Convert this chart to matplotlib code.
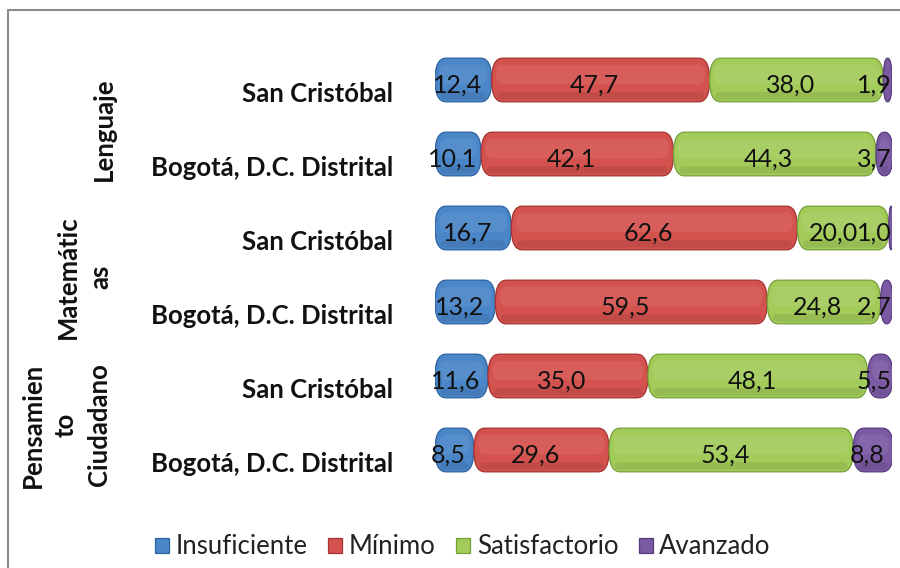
import numpy as np
import matplotlib
matplotlib.use("Agg")
import matplotlib.pyplot as plt
from matplotlib.patches import FancyBboxPatch, Rectangle
import matplotlib.transforms as mtransforms

plt.rcParams['font.family'] = ['Lato', 'DejaVu Sans']

# data, top row first
categories = ["San Cristóbal", "Bogotá, D.C. Distrital",
              "San Cristóbal", "Bogotá, D.C. Distrital",
              "San Cristóbal", "Bogotá, D.C. Distrital"]
groups = ["Lenguaje", "Matemátic\nas", "Pensamien\nto\nCiudadano"]
levels = ["Insuficiente", "Mínimo", "Satisfactorio", "Avanzado"]

insuficiente = [12.4, 10.1, 16.7, 13.2, 11.6, 8.5]
minimo = [47.7, 42.1, 62.6, 59.5, 35.0, 29.6]
satisfactorio = [38.0, 44.3, 20.0, 24.8, 48.1, 53.4]
avanzado = [1.9, 3.7, 1.0, 2.7, 5.5, 8.8]

colors = ["#4a86c8", "#d4524e", "#a2cb5a", "#7b5aa3"]
edges = ["#2e62a0", "#a5332f", "#76a03a", "#563a7d"]

fig = plt.figure(figsize=(9, 5.68), dpi=100)
ax = fig.add_axes([435 / 900, 1 - 487 / 568, 457 / 900, 444 / 568])

series = [insuficiente, minimo, satisfactorio, avanzado]
y = np.arange(len(categories))
left = np.zeros(len(categories))
height = 0.59

px_x = 100 / 457.0     # data units per pixel (x)
rx = 11 * px_x

def off(dx, dy):
    return mtransforms.ScaledTranslation(dx / 100, dy / 100, fig.dpi_scale_trans)

for i, vals in enumerate(series):
    vals = np.array(vals)
    bars = ax.barh(y, vals, left=left, height=height, color="none",
                   edgecolor="none", label=levels[i])
    for b, v in zip(bars, vals):
        x0, y0 = b.get_x(), b.get_y()
        w, h = b.get_width(), b.get_height()
        r = min(rx, w / 2)
        p = FancyBboxPatch((x0, y0), w, h,
                           boxstyle=f"round,pad=0,rounding_size={r}",
                           mutation_aspect=(h / 2) / r,
                           facecolor=colors[i], edgecolor=edges[i], lw=0.9, zorder=2)
        ax.add_patch(p)
        # soft 3D shading: light band upper-middle, darker lower edge
        if w > 3:
            band = FancyBboxPatch((x0 + r * 0.4, y0 + h * 0.15), w - r * 0.8, h * 0.45,
                                  boxstyle=f"round,pad=0,rounding_size={r * 0.6}",
                                  mutation_aspect=(h * 0.225) / (r * 0.6),
                                  facecolor="white", alpha=0.07, edgecolor="none", zorder=3)
            ax.add_patch(band)
            shade = FancyBboxPatch((x0 + r * 0.5, y0 + h * 0.78), w - r * 1.0, h * 0.17,
                                   boxstyle=f"round,pad=0,rounding_size={r * 0.5}",
                                   mutation_aspect=(h * 0.085) / (r * 0.5),
                                   facecolor="black", alpha=0.08, edgecolor="none", zorder=3)
            ax.add_patch(shade)
        txt = f"{v:.1f}".replace(".", ",")
        if i == 3 and v < 5:
            ax.text(100, y0 + h / 2, txt, ha="right", va="center", fontsize=18,
                    color="#111111", zorder=4, transform=ax.transData + off(0, -5))
        else:
            dx = -6
            if i == 2 and w < 22:
                dx = -10
            ax.text(x0 + w / 2, y0 + h / 2, txt, ha="center", va="center",
                    fontsize=18, color="#111111", zorder=4,
                    transform=ax.transData + off(dx, -5))
    left = left + vals

ax.set_xlim(0, 100)
ax.set_ylim(len(categories) - 0.5, -0.5)
ax.set_xticks([])
ax.set_yticks([])
for s in ax.spines.values():
    s.set_visible(False)

# category labels
for yi, c in zip(y, categories):
    ax.text(0, yi, c, ha="right", va="center", fontsize=18.5, fontweight="bold",
            color="#111111", transform=ax.transData + off(-42, -14))

# group labels
trans = mtransforms.blended_transform_factory(fig.transFigure, ax.transData)
gx = [104 / 900, 84 / 900, 66 / 900]
for k, g in enumerate(groups):
    ax.text(gx[k], 2 * k + 0.5, g, transform=trans + off(0, -12), rotation=90,
            ha="center", va="center", fontsize=18.5, fontweight="bold",
            color="#111111", multialignment="center", linespacing=1.45)

# legend
handles = [Rectangle((0, 0), 1, 1, facecolor=c, edgecolor=e, lw=0.9)
           for c, e in zip(colors, edges)]
fig.legend(handles, levels, loc="center", bbox_to_anchor=(463 / 900, 1 - 547 / 568),
           ncol=4, frameon=False, fontsize=18.5, handlelength=0.55, handleheight=0.55,
           handletextpad=0.25, columnspacing=0.8, labelcolor="#222222")

# chart border
fig.patches.append(Rectangle((8 / 900, -0.1), 1.2, 1.1 - 10 / 568,
                             transform=fig.transFigure, fill=False,
                             edgecolor="#8a8a8a", lw=1.5))

fig.savefig("out.png", dpi=100)
